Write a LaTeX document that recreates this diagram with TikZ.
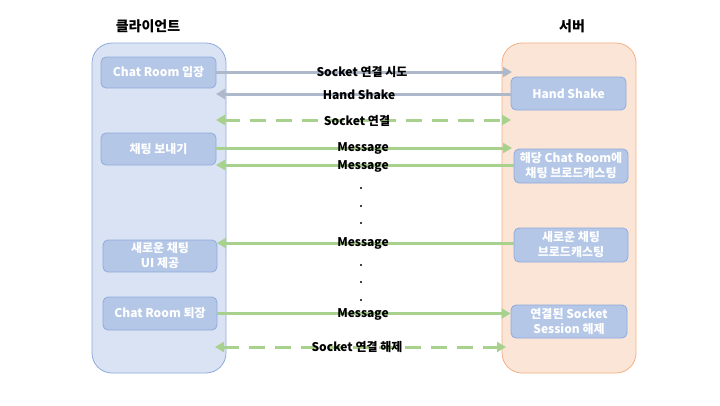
\documentclass[tikz,border=0pt]{standalone}
\usepackage{fontspec}
\setmainfont{Noto Sans CJK KR}
\usetikzlibrary{arrows.meta}
\definecolor{cpanel}{HTML}{DAE3F3}
\definecolor{cpanelb}{HTML}{8FAADC}
\definecolor{spanel}{HTML}{FBE5D6}
\definecolor{spanelb}{HTML}{F4B183}
\definecolor{boxf}{HTML}{B4C7E7}
\definecolor{boxb}{HTML}{8FAADC}
\definecolor{grayarr}{HTML}{ADB9CA}
\definecolor{greenarr}{HTML}{A9D18E}
\begin{document}
\begin{tikzpicture}[x=1pt,y=-1pt,
  panel/.style={rounded corners=20pt,line width=0.8pt},
  actbox/.style={draw=boxb,fill=boxf,rounded corners=5pt,line width=0.8pt,
    text=white,font=\bfseries\fontsize{12}{15}\selectfont,align=center,
    inner sep=0pt,minimum height=32pt},
  title/.style={font=\bfseries\fontsize{14}{16}\selectfont},
  lbl/.style={font=\bfseries\fontsize{12}{14}\selectfont,inner sep=0pt},
  conn/.style={line width=3pt,-{Triangle[length=9pt,width=10pt]}},
  gconn/.style={conn,draw=greenarr,color=greenarr},
  yconn/.style={conn,draw=grayarr,color=grayarr},
  dconn/.style={line width=3pt,draw=greenarr,color=greenarr,
    dash pattern=on 16pt off 10pt,
    {Triangle[length=9pt,width=10pt]}-{Triangle[length=9pt,width=10pt]}},
  dotn/.style={circle,fill=black,inner sep=0pt,minimum size=2.4pt}
]
\useasboundingbox (0,0) rectangle (720,405);
% panels
\node[panel,draw=cpanelb,fill=cpanel,minimum width=134pt,minimum height=330pt,inner sep=0pt] (cli) at (159,208) {};
\node[panel,draw=spanelb,fill=spanel,minimum width=134pt,minimum height=330pt,inner sep=0pt] (srv) at (569,208) {};
\node[title] (tc) at (148,26) {클라이언트};
\node[title] (ts) at (572,26) {서버};
% client boxes
\node[actbox,minimum width=115pt,minimum height=31pt] (c1) at (158.5,72.5) {Chat Room 입장};
\node[actbox,minimum width=115pt] (c2) at (158.5,149) {채팅 보내기};
\node[actbox,minimum width=114pt] (c3) at (160,256) {새로운 채팅\\UI 제공};
\node[actbox,minimum width=114pt,minimum height=33pt] (c4) at (160,313.5) {Chat Room 퇴장};
% server boxes
\node[actbox,minimum width=115pt,minimum height=33pt] (s1) at (568.5,93.5) {Hand Shake};
\node[actbox,minimum width=114pt,minimum height=34pt] (s2) at (571,166) {해당 Chat Room에\\채팅 브로드캐스팅};
\node[actbox,minimum width=114pt,minimum height=34pt] (s3) at (571,245) {새로운 채팅\\브로드캐스팅};
\node[actbox,minimum width=116pt,minimum height=33pt] (s4) at (569,321.5) {연결된 Socket\\Session 해제};
% free ends
\coordinate (e1) at (512,72);
\coordinate (e2) at (216,94);
\coordinate (e3a) at (216,120);
\coordinate (e3b) at (511,120);
\coordinate (e4) at (512,148);
\coordinate (e5) at (216,165);
\coordinate (e6) at (217,243);
\coordinate (e8a) at (215,347);
\coordinate (e8b) at (506,347);
% connectors
\draw[yconn] (c1.east |- e1) -- (e1);
\draw[yconn] (s1.west |- e2) -- (e2);
\draw[dconn] (e3a) -- (e3b);
\draw[gconn] (c2.east |- e4) -- (e4);
\draw[gconn] (s2.west |- e5) -- (e5);
\draw[gconn] (s3.west |- e6) -- (e6);
\draw[gconn] (c4.east) -- (s4.west |- c4.east);
\draw[dconn] (e8a) -- (e8b);
% labels
\node[lbl] (l1) at (362,72) {Socket 연결 시도};
\node[lbl] (l2) at (359,95) {Hand Shake};
\node[lbl] (l3) at (357,121) {Socket 연결};
\node[lbl] (l4) at (363,148) {Message};
\node[lbl] (l5) at (363,166) {Message};
\node[lbl] (l6) at (363,243) {Message};
\node[lbl] (l7) at (363,314) {Message};
\node[lbl] (l8) at (357,347) {Socket 연결 해제};
% dots
\node[dotn] (d1) at (361,188) {};
\node[dotn] (d2) at (361,206) {};
\node[dotn] (d3) at (361,223) {};
\node[dotn] (d4) at (361,265) {};
\node[dotn] (d5) at (361,282) {};
\node[dotn] (d6) at (361,300) {};
\end{tikzpicture}
\end{document}
